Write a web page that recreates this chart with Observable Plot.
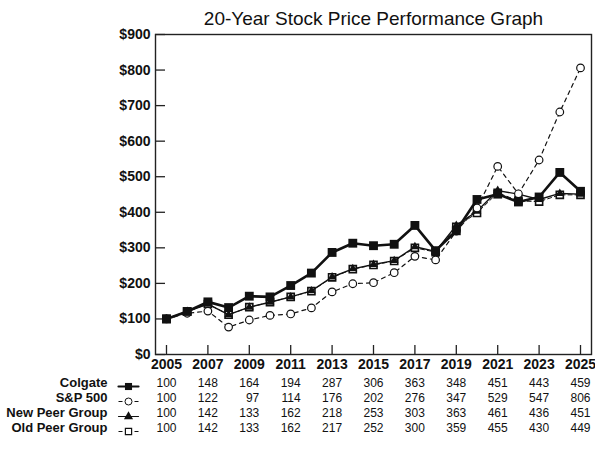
<!DOCTYPE html>
<html>
<head>
<meta charset="utf-8">
<script src="https://cdn.jsdelivr.net/npm/d3@7"></script>
<script src="https://cdn.jsdelivr.net/npm/@observablehq/plot@0.6"></script>
<style>
  html, body { margin: 0; padding: 0; background: #fff; }
  #chart svg { font-family: "Liberation Sans", Arial, sans-serif; }
</style>
</head>
<body>
<div id="chart"></div>
<script>
const years = [2005,2006,2007,2008,2009,2010,2011,2012,2013,2014,2015,2016,2017,2018,2019,2020,2021,2022,2023,2024,2025];
const colgate = [100,121,148,132,164,162,194,229,287,313,306,310,363,292,348,436,451,429,443,512,459];
const sp500   = [100,116,122,77,97,110,114,131,176,199,202,230,276,266,347,412,529,452,547,682,806];
const newPeer = [100,121,142,112,133,147,162,179,218,241,253,264,303,290,363,403,461,451,436,453,451];
const oldPeer = [100,121,142,112,133,147,162,178,217,240,252,263,300,288,359,398,455,432,430,449,449];

const tableYears = [2005,2007,2009,2011,2013,2015,2017,2019,2021,2023,2025];
const tableColgate = [100,148,164,194,287,306,363,348,451,443,459];
const tableSP      = [100,122,97,114,176,202,276,347,529,547,806];
const tableNew     = [100,142,133,162,218,253,303,363,461,436,451];
const tableOld     = [100,142,133,162,217,252,300,359,455,430,449];
const rowLabels = ["Colgate", "S&P 500", "New Peer Group", "Old Peer Group"];

const yTicks = [0,100,200,300,400,500,600,700,800,900];
const title = "20-Year Stock Price Performance Graph";

const series = (vals) => years.map((y, i) => ({year: y, value: vals[i]}));
const sColgate = series(colgate), sSP = series(sp500), sNew = series(newPeer), sOld = series(oldPeer);

const tables = [tableColgate, tableSP, tableNew, tableOld];
const rowDy = [32, 47, 62, 77];

const tableMarks = tables.map((vals, i) =>
  Plot.text(tableYears, {x: d => d, text: (d, j) => String(vals[j]), frameAnchor: "bottom",
    dy: rowDy[i], dx: 10, textAnchor: "end", fontSize: 12, fill: "#111"}));
const labelMarks = rowLabels.map((lab, i) =>
  Plot.text([lab], {text: d => d, frameAnchor: "bottom-left", dx: -48, dy: rowDy[i],
    textAnchor: "end", fontSize: 13, fontWeight: "bold", fill: "#111"}));

// legend glyphs (line segment + symbol)
const legLine = (i, opts) => Plot.vector([0], {frameAnchor: "bottom-left", dx: -27, dy: rowDy[i],
  length: 20, rotate: 90, anchor: "middle", r: 0, stroke: "#111", ...opts});
const legDot = (i, opts) => Plot.dot([0], {frameAnchor: "bottom-left", dx: -27, dy: rowDy[i], ...opts});

const chart = Plot.plot({
  width: 595,
  height: 453,
  marginTop: 34,
  marginBottom: 99,
  marginLeft: 155,
  marginRight: 4,
  style: {fontFamily: '"Liberation Sans", Arial, sans-serif', background: "#fff", overflow: "visible"},
  x: {domain: [2004.469, 2025.531], label: null},
  y: {domain: [0, 900], label: null},
  marks: [
    Plot.axisY({ticks: yTicks, tickSize: 0, tickPadding: 5, tickFormat: d => "$" + d, label: null,
      fontSize: 14, fontWeight: "bold", fill: "#111"}),
    Plot.axisY({ticks: yTicks, tickSize: 10, dx: 10, tickFormat: () => "", label: null, stroke: "#222", strokeWidth: 1.3}),
    Plot.axisX({ticks: tableYears, tickSize: 0, tickPadding: 5, tickFormat: d => String(d), label: null,
      fontSize: 14, fontWeight: "bold", fill: "#111"}),
    Plot.axisX({ticks: tableYears, tickSize: 9, dy: -9, tickFormat: () => "", label: null, stroke: "#222", strokeWidth: 1.3}),
    Plot.frame({stroke: "#222", strokeWidth: 1.4}),
    Plot.text([title], {text: d => d, frameAnchor: "top", dy: -23, fontSize: 19, fill: "#111"}),

    // Old peer group
    Plot.line(sOld, {x: "year", y: "value", stroke: "#111", strokeWidth: 1, strokeDasharray: "4,3"}),
    Plot.dot(sOld, {x: "year", y: "value", symbol: "square", r: 4, fill: "#fff", stroke: "#111", strokeWidth: 1.6}),
    // New peer group
    Plot.line(sNew, {x: "year", y: "value", stroke: "#111", strokeWidth: 1.4}),
    Plot.dot(sNew, {x: "year", y: "value", symbol: "triangle", r: 3.2, fill: "#111", stroke: "none"}),
    // S&P 500
    Plot.line(sSP, {x: "year", y: "value", stroke: "#111", strokeWidth: 1.2, strokeDasharray: "4,4"}),
    Plot.dot(sSP, {x: "year", y: "value", symbol: "circle", r: 3.8, fill: "#fff", stroke: "#111", strokeWidth: 1.2}),
    // Colgate
    Plot.line(sColgate, {x: "year", y: "value", stroke: "#111", strokeWidth: 2.6}),
    Plot.dot(sColgate, {x: "year", y: "value", symbol: "square", r: 5, fill: "#111", stroke: "none"}),

    // table
    ...labelMarks,
    ...tableMarks,
    legLine(0, {strokeWidth: 2.2}),
    legDot(0, {symbol: "square", r: 4, fill: "#111", stroke: "none"}),
    legLine(1, {strokeWidth: 1, strokeDasharray: "4,12", strokeLinecap: "butt"}),
    legDot(1, {symbol: "circle", r: 3.5, fill: "#fff", stroke: "#111", strokeWidth: 1}),
    legLine(2, {strokeWidth: 1.2}),
    legDot(2, {symbol: "triangle", r: 3.4, fill: "#111", stroke: "none"}),
    legLine(3, {strokeWidth: 1, strokeDasharray: "4,12", strokeLinecap: "butt"}),
    legDot(3, {symbol: "square", r: 3.5, fill: "#fff", stroke: "#111", strokeWidth: 1.2})
  ]
});
document.getElementById("chart").appendChild(chart);
</script>
</body>
</html>
